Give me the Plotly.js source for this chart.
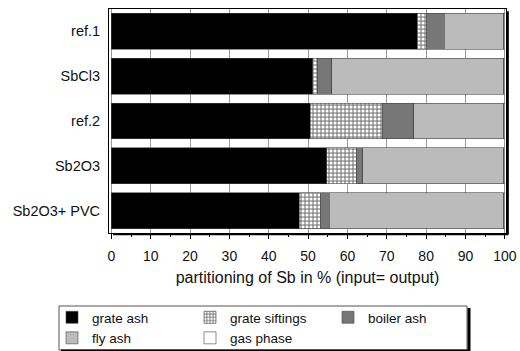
<!DOCTYPE html>
<html>
<head>
<meta charset="utf-8">
<script src="https://cdn.plot.ly/plotly-3.0.1.min.js"></script>
<style>html,body{margin:0;padding:0;background:#fff;}#chart{width:520px;height:351px;}</style>
</head>
<body>
<div id="chart"></div>
<script>
var categories = ['ref.1', 'SbCl3', 'ref.2', 'Sb2O3', 'Sb2O3+ PVC'];
var grateAsh = [77.7, 51.2, 50.5, 54.8, 47.7];
var grateSiftings = [2.5, 1.3, 18.3, 7.6, 5.4];
var boilerAsh = [4.4, 3.5, 8.0, 1.5, 2.3];
var flyAsh = [15.1, 43.7, 22.9, 35.8, 44.3];
var gasPhase = [0.3, 0.3, 0.3, 0.3, 0.3];
var seriesNames = ['grate ash', 'grate siftings', 'boiler ash', 'fly ash', 'gas phase'];
var xTickVals = [0, 10, 20, 30, 40, 50, 60, 70, 80, 90, 100];
var xTitle = 'partitioning of Sb in % (input= output)';

var FONT = 'Liberation Sans, Arial, sans-serif';
var lineSpec = {color: '#444', width: 0.6};
function mk(name, vals, marker) {
  marker.line = lineSpec;
  return {type: 'bar', orientation: 'h', name: name, x: vals, y: categories, marker: marker, hoverinfo: 'skip'};
}
var data = [
  mk(seriesNames[0], grateAsh, {color: '#000000'}),
  mk(seriesNames[1], grateSiftings, {color: '#a0a0a0', pattern: {shape: '.', fgcolor: '#ffffff', bgcolor: '#8f8f8f', size: 4, solidity: 0.45}}),
  mk(seriesNames[2], boilerAsh, {color: '#777777'}),
  mk(seriesNames[3], flyAsh, {color: '#bbbbbb'}),
  mk(seriesNames[4], gasPhase, {color: '#ffffff'})
];

function px(xPix) { return (xPix - 109) / 397; }
function py(yPix) { return (233 - yPix) / 224; }

var layout = {
  width: 520, height: 351,
  margin: {l: 109, r: 14, t: 9, b: 118, pad: 0, autoexpand: false},
  paper_bgcolor: '#fff', plot_bgcolor: '#fff',
  barmode: 'stack', bargap: 0.2,
  font: {family: FONT, size: 14, color: '#111'},
  xaxis: {
    range: [-0.6, 100.3], tickvals: xTickVals, ticktext: xTickVals.map(String),
    showgrid: true, gridcolor: '#999', gridwidth: 1, zeroline: false,
    showline: true, mirror: true, linecolor: '#000', linewidth: 1,
    ticks: 'outside', ticklen: 5, tickcolor: '#000', ticklabelstandoff: 5,
    minor: {dtick: 5, tick0: 0, ticks: 'outside', ticklen: 3, tickcolor: '#000', showgrid: false},
    title: {text: xTitle, font: {family: FONT, size: 16}, standoff: 9},
    tickfont: {family: FONT, size: 14}
  },
  yaxis: {
    autorange: 'reversed', showgrid: false, zeroline: false,
    showline: true, mirror: true, linecolor: '#000', linewidth: 1,
    ticks: '', ticklabelstandoff: 5,
    tickfont: {family: FONT, size: 14.5}
  },
  showlegend: true,
  legend: {
    orientation: 'h', x: px(52), xanchor: 'left', y: py(302), yanchor: 'top',
    borderwidth: 0, bgcolor: 'rgba(0,0,0,0)',
    entrywidth: 93, entrywidthmode: 'pixels', traceorder: 'normal',
    font: {family: FONT, size: 13.5}
  },
  shapes: [
    {type: 'line', xref: 'paper', yref: 'paper', x0: 1.004, x1: 1.004, y0: -0.006, y1: 0.99, line: {color: '#000', width: 2.5}},
    {type: 'line', xref: 'paper', yref: 'paper', x0: 0.01, x1: 1.006, y0: -0.006, y1: -0.006, line: {color: '#000', width: 2}},
    {type: 'rect', xref: 'paper', yref: 'paper', x0: px(59), x1: px(467), y0: py(306), y1: py(350), line: {color: '#555', width: 1}},
    {type: 'line', xref: 'paper', yref: 'paper', x0: px(469), x1: px(469), y0: py(308), y1: py(352), line: {color: '#000', width: 3}},
    {type: 'line', xref: 'paper', yref: 'paper', x0: px(61), x1: px(470), y0: py(350.5), y1: py(350.5), line: {color: '#000', width: 2}}
  ]
};

Plotly.newPlot('chart', data, layout, {displayModeBar: false, staticPlot: true});
</script>
</body>
</html>
